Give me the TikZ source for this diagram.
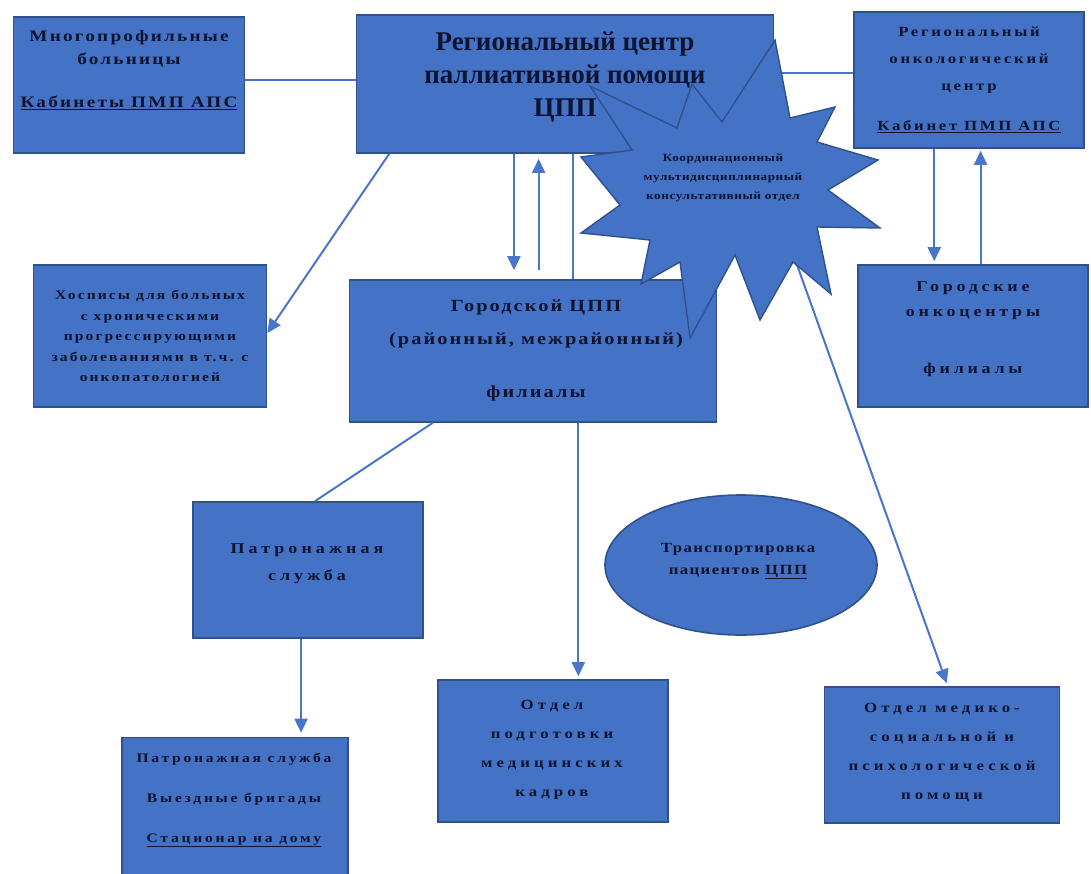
\documentclass[tikz,border=0pt]{standalone}
\usepackage{fontspec}
\setmainfont{Liberation Serif}
\usetikzlibrary{arrows.meta,calc,shapes.geometric}
\definecolor{boxfill}{HTML}{4472C4}
\definecolor{boxline}{HTML}{2F528F}
\definecolor{conn}{HTML}{4A76CA}
\definecolor{txt}{HTML}{0E1330}
\newcommand{\myLS}[1]{\addfontfeature{FakeStretch=1.2,LetterSpace=#1}}
\newcommand{\myFS}[2]{\fontsize{#1}{#2}\selectfont}
\begin{document}
\begin{tikzpicture}[x=1pt,y=-1pt,
  box/.style={draw=boxline,fill=boxfill,line width=1.6pt,rectangle,inner sep=0pt},
  oval/.style={draw=boxline,fill=boxfill,line width=1.6pt,ellipse,inner sep=0pt},
  burst/.style={draw=boxline,fill=boxfill,line width=1.4pt,line join=miter},
  lbl/.style={text=txt,align=center,inner sep=0pt},
  conline/.style={draw=conn,line width=2pt},
  conarrow/.style={conline,-{Triangle[width=13pt,length=14pt]}},
]
\useasboundingbox (0,0) rectangle (1091,873);
\fill[white] (0,0) rectangle (1091,873);

% boxes
\node[box,minimum width=231pt,minimum height=136pt] (A) at (129,85) {};
\node[box,minimum width=417pt,minimum height=138pt] (C) at (565,84) {};
\node[box,minimum width=230pt,minimum height=136pt] (O) at (969,80) {};
\node[box,minimum width=233pt,minimum height=142pt] (H) at (150,336) {};
\node[box,minimum width=367pt,minimum height=142pt] (G) at (533,351) {};
\node[box,minimum width=230pt,minimum height=142pt] (GO) at (973,336) {};
\node[box,minimum width=230pt,minimum height=136pt] (P) at (308,570) {};
\node[oval,minimum width=272pt,minimum height=140pt] (E) at (741,565) {};
\node[box,minimum width=226pt,minimum height=145pt] (B) at (235,810) {};
\node[box,minimum width=230pt,minimum height=142pt] (K) at (553,751) {};
\node[box,minimum width=235pt,minimum height=136pt] (M) at (942,755) {};

% connectors
\draw[conline] ([yshift=5pt]A.east) -- ([yshift=5pt]A.east -| C.west);
\draw[conline] ([yshift=11pt]C.east) -- ([yshift=11pt]C.east -| O.west);
\coordinate (c0) at ($(C.south west)!0.08!(C.south east)$);
\draw[conarrow] (c0) -- ([yshift=3pt]H.east);
\coordinate (c1) at ($(C.south west)!0.378!(C.south east)$);
\draw[conarrow] (c1) -- ([yshift=9pt]c1 |- G.north);
\coordinate (c2) at ($(C.south west)!0.437!(C.south east)$);
\draw[conarrow] ([yshift=9pt]c2 |- G.north) -- ([yshift=-5pt]c2);
\coordinate (c3) at ($(C.south west)!0.52!(C.south east)$);
\draw[conline] (c3) -- (c3 |- G.north);
\coordinate (o1) at ($(O.south west)!0.35!(O.south east)$);
\draw[conarrow] (o1) -- ([yshift=3pt]o1 |- GO.north);
\coordinate (o2) at ($(O.south west)!0.55!(O.south east)$);
\draw[conarrow] ([yshift=0pt]o2 |- GO.north) -- ([yshift=-2pt]o2);
\coordinate (g1) at ($(G.south west)!0.228!(G.south east)$);
\draw[conline] (g1) -- ($(P.north west)!0.53!(P.north east)$);
\coordinate (g2) at ($(G.south west)!0.623!(G.south east)$);
\draw[conarrow] (g2) -- ([yshift=3pt]g2 |- K.north);
\coordinate (p1) at ($(P.south west)!0.47!(P.south east)$);
\draw[conarrow] (p1) -- ([yshift=4pt]p1 |- B.north);
\coordinate (Sx) at (796,262);
\draw[conarrow] (Sx) -- ([yshift=3pt]$(M.north west)!0.52!(M.north east)$);

% star burst
\path[burst] (775,40) -- (790,118) -- (835,107) -- (817,142) -- (878,160)
  -- (828,190) -- (880,228) -- (817,227) -- (831,294) -- (793,262)
  -- (760,320) -- (735,255) -- (690,338) -- (680,262) -- (641,284)
  -- (650,240) -- (581,233) -- (620,205) -- (581,157) -- (632,150)
  -- (590,86) -- (677,128) -- (692,84) -- (722,122) -- cycle;

% texts
\node[lbl,font=\bfseries\myFS{16}{23}\myLS{14}] (At) at (129,70)
  {Многопрофильные\\больницы\\[20pt]\underline{Кабинеты ПМП АПС}};
\node[lbl,font=\bfseries\myFS{27}{33}] (Ct) at (565,77)
  {Региональный центр\\паллиативной помощи\\ЦПП};
\node[lbl,font=\bfseries\myFS{14}{27}\myLS{19}] (Ot) at (969,80)
  {Региональный\\онкологический\\центр\\[13pt]\underline{Кабинет ПМП АПС}};
\node[lbl,font=\bfseries\myFS{11}{19}\myLS{5}] (St) at (723,178)
  {Координационный\\мультидисциплинарный\\консультативный отдел};
\node[lbl,font=\bfseries\myFS{13}{20.5}\myLS{16}] (Ht) at (150,336)
  {Хосписы для больных\\с хроническими\\прогрессирующими\\заболеваниями в т.ч. с\\онкопатологией};
\node[lbl,font=\bfseries\myFS{17}{33}\myLS{12}] (Gt) at (536,350)
  {Городской ЦПП\\(районный, межрайонный)\\[20pt]филиалы};
\node[lbl,font=\bfseries\myFS{15}{25}\myLS{25}] (GOt) at (973,329)
  {Городские\\онкоцентры\\[32pt]филиалы};
\node[lbl,font=\bfseries\myFS{15}{27}\myLS{27}] (Pt) at (307,564)
  {Патронажная\\служба};
\node[lbl,font=\bfseries\myFS{14}{22}\myLS{10}] (Et) at (738,561)
  {Транспортировка\\пациентов \underline{ЦПП}};
\node[lbl,font=\bfseries\myFS{13}{40}\myLS{21}] (Bt) at (234,800)
  {Патронажная служба\\Выездные бригады\\\underline{Стационар на дому}};
\node[lbl,font=\bfseries\myFS{14}{29}\myLS{29}] (Kt) at (552,750)
  {Отдел\\подготовки\\медицинских\\кадров};
\node[lbl,font=\bfseries\myFS{14}{29}\myLS{29}] (Mt) at (942,753)
  {Отдел медико-\\социальной и\\психологической\\помощи};
\end{tikzpicture}
\end{document}
